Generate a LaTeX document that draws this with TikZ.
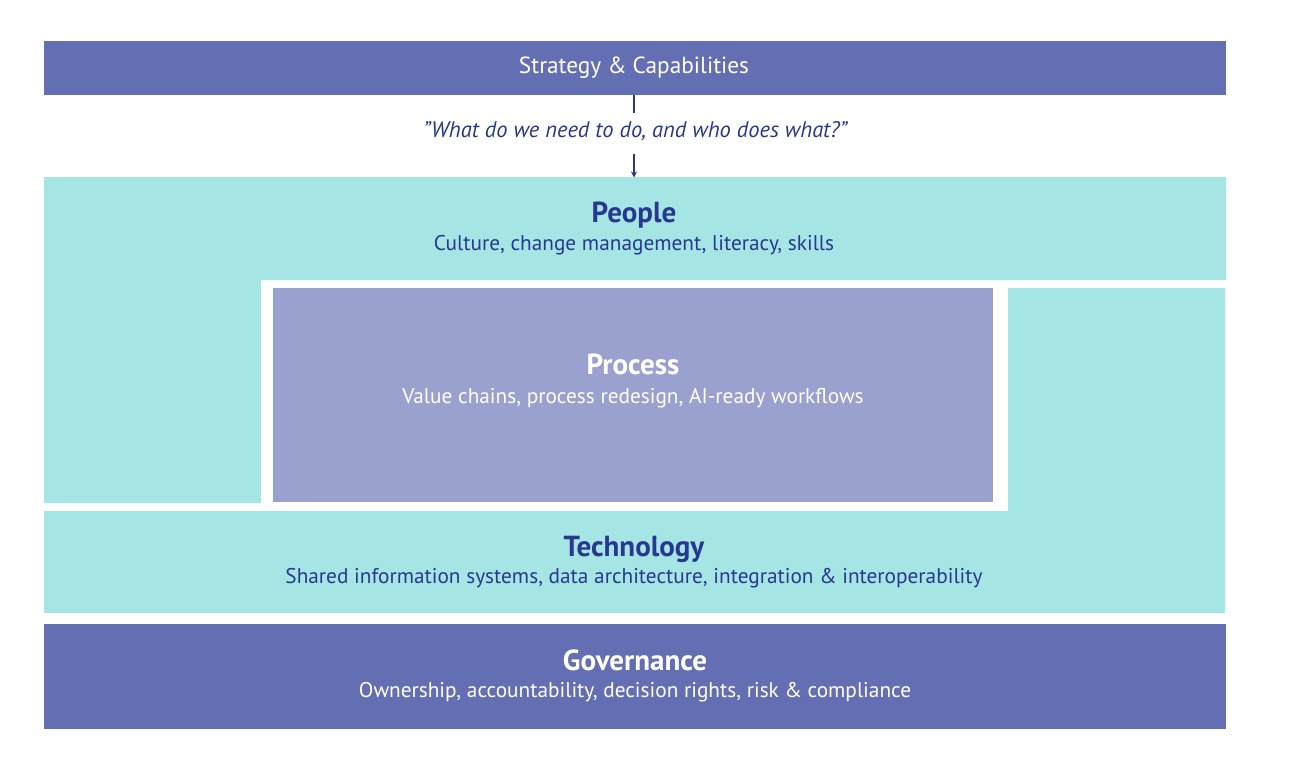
\documentclass[tikz,border=0pt]{standalone}
\usepackage{fontspec}
\setmainfont{PT Sans}
\usetikzlibrary{arrows.meta}
\definecolor{navybar}{HTML}{646EB2}
\definecolor{tealbox}{HTML}{A5E6E4}
\definecolor{procbox}{HTML}{9AA1CE}
\definecolor{navytext}{HTML}{283891}
\tikzset{
  ttl/.style={anchor=base, inner sep=0pt, font=\fontsize{29}{32}\selectfont\bfseries},
  sub/.style={anchor=base, inner sep=0pt, font=\fontsize{21.3}{25}\selectfont},
  conn/.style={draw=navytext, line width=1.6pt},
}
\begin{document}
\begin{tikzpicture}[x=1pt,y=-1pt]
\useasboundingbox (0,0) rectangle (1289,765);
% boxes
\fill[navybar] (44,41) rectangle (1226,95);
\node[inner sep=0pt, minimum width=1182pt, minimum height=54pt] (strategy) at (635,68) {};
\fill[tealbox] (44,177) -- (1226,177) -- (1226,280) -- (261,280) -- (261,503) -- (44,503) -- cycle;
\fill[procbox] (273,288) rectangle (993,502);
\fill[tealbox] (44,511) -- (1008,511) -- (1008,288) -- (1225,288) -- (1225,613) -- (44,613) -- cycle;
\fill[navybar] (44,624) rectangle (1226,729);
% texts
\node[sub, text=white, font=\fontsize{23.3}{27}\selectfont] (stratlbl) at (634,74) {Strategy \& Capabilities};
\node[sub, text=navytext, font=\fontsize{22.5}{26}\selectfont\itshape] (question) at (635,137) {\symbol{34}What do we need to do, and who does what?\symbol{34}};
\coordinate (qtop) at (634,113);
\coordinate (qbot) at (634,154);
\coordinate (peopletop) at (634,177.5);
\node[ttl, text=navytext] (people) at (634,222) {People};
\node[sub, text=navytext] (peoplesub) at (634,250) {Culture, change management, literacy, skills};
\node[ttl, text=white] (process) at (633,374) {Process};
\node[sub, text=white] (processsub) at (633,403) {Value chains, process redesign, AI-ready workflows};
\node[ttl, text=navytext] (tech) at (634,556) {Technology};
\node[sub, text=navytext] (techsub) at (634,583) {Shared information systems, data architecture, integration \& interoperability};
\node[ttl, text=white] (gov) at (635,670) {Governance};
\node[sub, text=white] (govsub) at (635,697) {Ownership, accountability, decision rights, risk \& compliance};
% connectors
\draw[conn] (strategy.south -| qtop) -- (qtop);
\draw[conn, -{Stealth[length=6pt,width=6pt]}] (qbot) -- (peopletop);
\end{tikzpicture}
\end{document}
